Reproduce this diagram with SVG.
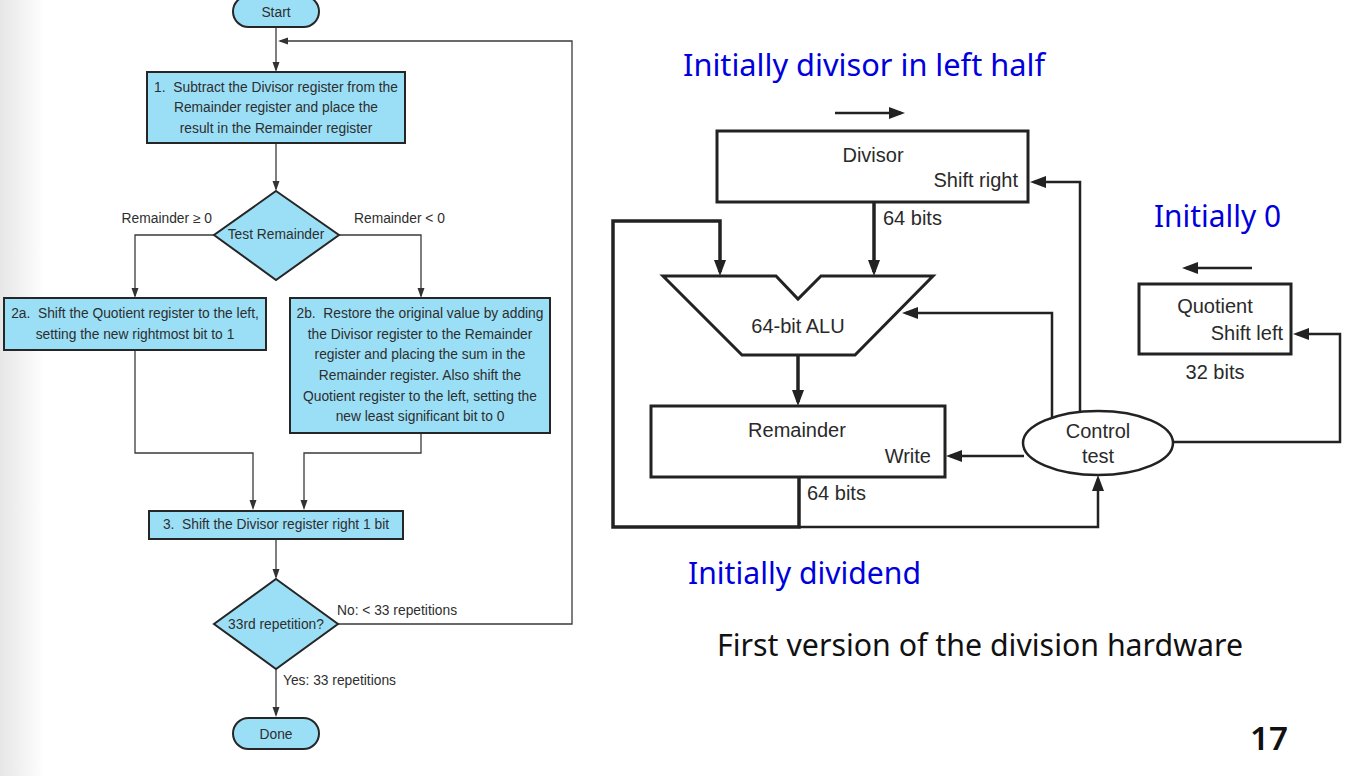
<svg xmlns="http://www.w3.org/2000/svg" width="1362" height="776" viewBox="0 0 1362 776">
<defs>
<linearGradient id="edge" x1="0" y1="0" x2="1" y2="0">
<stop offset="0" stop-color="#e6e6e6"/>
<stop offset="1" stop-color="#ffffff"/>
</linearGradient>
<marker id="fa" markerUnits="userSpaceOnUse" markerWidth="10" markerHeight="8" refX="8" refY="3.5" orient="auto">
<path d="M0,0 L10,3.5 L0,7 z" fill="#333"/>
</marker>
<marker id="ha" markerUnits="userSpaceOnUse" markerWidth="17" markerHeight="13" refX="12" refY="6" orient="auto">
<path d="M0,0 L16,6 L0,12 z" fill="#222"/>
</marker>
</defs>
<style>
.fbox{fill:#9bdff6;stroke:#262626;stroke-width:2}
.ft{font-family:"Liberation Sans",Arial,sans-serif;font-size:13.8px;fill:#2e2e2e;text-anchor:middle}
.fl{font-family:"Liberation Sans",Arial,sans-serif;font-size:13.8px;fill:#2e2e2e}
.fc{fill:none;stroke:#3a3a3a;stroke-width:1.3}
.hbox{fill:#fff;stroke:#222;stroke-width:3}
.ht{font-family:"Liberation Sans",Arial,sans-serif;font-size:20px;fill:#2a2a2a}
.hc{fill:none;stroke:#222;stroke-width:2.5}
.hd{fill:none;stroke:#222;stroke-width:3.5}
.blue{font-family:"Noto Sans","DejaVu Sans",sans-serif;font-size:30px;fill:#0000dd}
.cap{font-family:"Noto Sans","DejaVu Sans",sans-serif;font-size:30px;fill:#111}
</style>
<rect x="0" y="0" width="1362" height="776" fill="#fff"/>
<rect x="0" y="0" width="45" height="776" fill="url(#edge)"/>

<!-- Flowchart -->
<g id="connectors-flow">
<path class="fc" d="M276 27 V70" marker-end="url(#fa)"/>
<path class="fc" d="M337 624 H572 V41 H280" marker-end="url(#fa)"/>
<path class="fc" d="M276 143 V189" marker-end="url(#fa)"/>
<path class="fc" d="M215 235 H135 V296" marker-end="url(#fa)"/>
<path class="fc" d="M339 235 H421 V296" marker-end="url(#fa)"/>
<path class="fc" d="M135 350 V453 H253 V508" marker-end="url(#fa)"/>
<path class="fc" d="M421 433 V453 H304 V508" marker-end="url(#fa)"/>
<path class="fc" d="M276 538 V577" marker-end="url(#fa)"/>
<path class="fc" d="M276 669 V715" marker-end="url(#fa)"/>
</g>
<g id="start">
<rect class="fbox" x="233" y="-4" width="86" height="31" rx="15.5"/>
<text class="ft" x="276" y="17">Start</text>
</g>
<g id="step1">
<rect class="fbox" x="147" y="72" width="258" height="71"/>
<text class="ft" x="276" y="92">1.&#160; Subtract the Divisor register from the</text>
<text class="ft" x="276" y="112">Remainder register and place the</text>
<text class="ft" x="276" y="133">result in the Remainder register</text>
</g>
<g id="test">
<polygon class="fbox" points="276,191 339,235 276,280 214,235"/>
<text class="ft" x="276" y="239">Test Remainder</text>
<text class="fl" x="212" y="223" text-anchor="end">Remainder ≥ 0</text>
<text class="fl" x="354" y="223">Remainder &lt; 0</text>
</g>
<g id="step2a">
<rect class="fbox" x="4" y="298" width="262" height="52"/>
<text class="ft" x="135" y="318">2a.&#160; Shift the Quotient register to the left,</text>
<text class="ft" x="135" y="339">setting the new rightmost bit to 1</text>
</g>
<g id="step2b">
<rect class="fbox" x="290" y="298" width="260" height="135"/>
<text class="ft" x="420" y="318">2b.&#160; Restore the original value by adding</text>
<text class="ft" x="420" y="339">the Divisor register to the Remainder</text>
<text class="ft" x="420" y="359">register and placing the sum in the</text>
<text class="ft" x="420" y="380">Remainder register. Also shift the</text>
<text class="ft" x="420" y="401">Quotient register to the left, setting the</text>
<text class="ft" x="420" y="421">new least significant bit to 0</text>
</g>
<g id="step3">
<rect class="fbox" x="149" y="511" width="254" height="28"/>
<text class="ft" x="276" y="529">3.&#160; Shift the Divisor register right 1 bit</text>
</g>
<g id="rep">
<polygon class="fbox" points="276,579 338,624 276,669 214,624"/>
<text class="ft" x="276" y="629">33rd repetition?</text>
<text class="fl" x="337" y="615">No: &lt; 33 repetitions</text>
<text class="fl" x="283" y="685">Yes: 33 repetitions</text>
</g>
<g id="done">
<rect class="fbox" x="233" y="718" width="86" height="31" rx="15.5"/>
<text class="ft" x="276" y="739">Done</text>
</g>

<!-- Hardware -->
<g id="connectors-hw">
<path class="hc" d="M835 113 H901" marker-end="url(#ha)"/>
<path class="hd" d="M874 202 V272" marker-end="url(#ha)"/>
<path class="hd" d="M799 477 V527 H613 V221 H720 V272" marker-end="url(#ha)"/>
<path class="hc" d="M799 527 H1098 V479" marker-end="url(#ha)"/>
<path class="hd" d="M798 355 V402" marker-end="url(#ha)"/>
<path class="hc" d="M1024 456 H950" marker-end="url(#ha)"/>
<path class="hc" d="M1052 418 V313 H906" marker-end="url(#ha)"/>
<path class="hc" d="M1080 412 V182 H1034" marker-end="url(#ha)"/>
<path class="hc" d="M1172 442 H1340 V334 H1297" marker-end="url(#ha)"/>
<path class="hc" d="M1252 268 H1186" marker-end="url(#ha)"/>
</g>
<g id="divisor">
<rect class="hbox" x="717" y="131" width="311" height="71"/>
<text class="ht" x="873" y="162" text-anchor="middle">Divisor</text>
<text class="ht" x="1018" y="187" text-anchor="end">Shift right</text>
<text class="ht" x="883" y="225">64 bits</text>
</g>
<g id="alu">
<polygon class="hbox" points="663,276 776,276 798,299 821,276 933,276 855,355 742,355"/>
<text class="ht" x="798" y="333" text-anchor="middle">64-bit ALU</text>
</g>
<g id="remainder">
<rect class="hbox" x="651" y="406" width="294" height="71"/>
<text class="ht" x="797" y="437" text-anchor="middle">Remainder</text>
<text class="ht" x="931" y="463" text-anchor="end">Write</text>
<text class="ht" x="807" y="500">64 bits</text>
</g>
<g id="control">
<ellipse cx="1098" cy="443" rx="75" ry="32" fill="#fff" stroke="#222" stroke-width="2.5"/>
<text class="ht" x="1098" y="438" text-anchor="middle">Control</text>
<text class="ht" x="1098" y="463" text-anchor="middle">test</text>
</g>
<g id="quotient">
<rect class="hbox" x="1139" y="284" width="152" height="70"/>
<text class="ht" x="1215" y="313" text-anchor="middle">Quotient</text>
<text class="ht" x="1283" y="340" text-anchor="end">Shift left</text>
<text class="ht" x="1215" y="379" text-anchor="middle">32 bits</text>
</g>
<g id="notes">
<text class="blue" x="683" y="76" textLength="362" lengthAdjust="spacingAndGlyphs">Initially divisor in left half</text>
<text class="blue" x="1154" y="227" textLength="127" lengthAdjust="spacingAndGlyphs">Initially 0</text>
<text class="blue" x="688" y="584" textLength="233" lengthAdjust="spacingAndGlyphs">Initially dividend</text>
<text class="cap" x="717" y="656" textLength="526" lengthAdjust="spacingAndGlyphs">First version of the division hardware</text>
<text x="1250" y="750" font-family="Noto Sans, DejaVu Sans, sans-serif" font-size="32" font-weight="600" fill="#111" textLength="38" lengthAdjust="spacingAndGlyphs">17</text>
</g>
</svg>
